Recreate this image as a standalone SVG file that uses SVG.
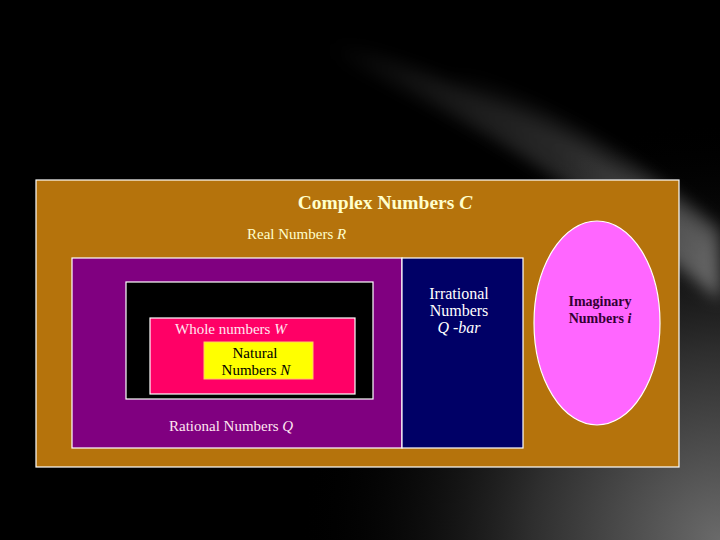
<svg xmlns="http://www.w3.org/2000/svg" width="720" height="540" viewBox="0 0 720 540">
<defs>
<radialGradient id="glowBR" cx="720" cy="540" r="420" gradientUnits="userSpaceOnUse">
<stop offset="0" stop-color="#6a6a6a"/>
<stop offset="0.45" stop-color="#2e2e2e"/>
<stop offset="1" stop-color="#000" stop-opacity="0"/>
</radialGradient>
<linearGradient id="streak" x1="0" y1="0" x2="1" y2="0">
<stop offset="0" stop-color="#fff" stop-opacity="0"/>
<stop offset="0.6" stop-color="#bbb" stop-opacity="0.35"/>
<stop offset="1" stop-color="#ddd" stop-opacity="0.7"/>
</linearGradient>
<filter id="blur" x="-20%" y="-50%" width="140%" height="200%"><feGaussianBlur stdDeviation="8"/></filter>
<style>
.edge{stroke:#ffffff;stroke-width:1.2}
.t{font-family:"Liberation Serif","Times New Roman",serif}
</style>
</defs>
<rect width="720" height="540" fill="#000"/>
<rect width="720" height="540" fill="url(#glowBR)"/>
<g filter="url(#blur)">
<path d="M330 40 C470 80 600 150 720 250 L720 300 C610 210 480 120 330 55 Z" fill="url(#streak)" opacity="0.6"/>
<path d="M450 70 C560 110 650 170 720 230 L720 250 C640 190 550 130 450 85 Z" fill="url(#streak)" opacity="0.5"/>
</g>
<g id="complex">
<rect x="36" y="180" width="643" height="287" fill="#B5730C" class="edge"/>
<text x="385" y="209" text-anchor="middle" class="t" font-size="19.5" font-weight="bold" fill="#FFFFCC">Complex Numbers <tspan font-style="italic">C</tspan></text>
<text x="247" y="239" class="t" font-size="15" fill="#FFFFCC">Real Numbers <tspan font-style="italic">R</tspan></text>
</g>
<g id="rational">
<rect x="72" y="258" width="330" height="190" fill="#800080" class="edge"/>
<text x="169" y="431" class="t" font-size="15" fill="#FFE6F0">Rational Numbers <tspan font-style="italic">Q</tspan></text>
</g>
<g id="integers">
<rect x="126" y="282" width="247" height="117" fill="#000" class="edge"/>
</g>
<g id="whole">
<rect x="150" y="318" width="205" height="76" fill="#FF0066" class="edge"/>
<text x="175" y="334" class="t" font-size="15" fill="#FFE6F0">Whole numbers <tspan font-style="italic">W</tspan></text>
</g>
<g id="natural">
<rect x="204" y="342" width="109" height="37" fill="#FFFF00" stroke="#FFCC66" stroke-width="1"/>
<text x="255" y="358" text-anchor="middle" class="t" font-size="15" fill="#000">Natural</text>
<text x="256" y="375" text-anchor="middle" class="t" font-size="15" fill="#000">Numbers <tspan font-style="italic">N</tspan></text>
</g>
<g id="irrational">
<rect x="402" y="258" width="121" height="190" fill="#000066" class="edge"/>
<text x="459" y="299" text-anchor="middle" class="t" font-size="16" fill="#fff">Irrational</text>
<text x="459" y="316" text-anchor="middle" class="t" font-size="16" fill="#fff">Numbers</text>
<text x="459" y="333" text-anchor="middle" class="t" font-size="16" font-style="italic" fill="#fff">Q -bar</text>
</g>
<g id="imaginary">
<ellipse cx="597" cy="323" rx="63" ry="102" fill="#FF66FF" class="edge"/>
<text x="600" y="306" text-anchor="middle" class="t" font-size="14" font-weight="bold" fill="#330033">Imaginary</text>
<text x="600" y="323" text-anchor="middle" class="t" font-size="14" font-weight="bold" fill="#330033">Numbers <tspan font-style="italic">i</tspan></text>
</g>
<g id="connectors"></g>
</svg>
